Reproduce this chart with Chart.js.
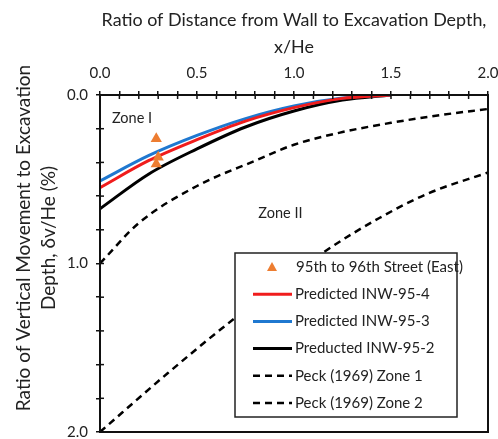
<!DOCTYPE html>
<html>
<head>
<meta charset="utf-8">
<script src="https://cdn.jsdelivr.net/npm/chart.js@4.4.0/dist/chart.umd.min.js"></script>
<style>
  html, body { margin: 0; padding: 0; background: #fff; }
</style>
</head>
<body>
<canvas id="chart" width="498" height="439"></canvas>
<script>
// x/He positions and settlement ratios (dv/He, %) for each curve
const predX = [0, 0.25, 0.5, 0.75, 1.0, 1.25, 1.5];
const inw954 = [0.55, 0.39, 0.265, 0.155, 0.075, 0.02, 0];
const inw953 = [0.51, 0.36, 0.24, 0.14, 0.065, 0.018, 0];
const inw952 = [0.675, 0.47, 0.32, 0.19, 0.095, 0.03, 0];

const peck1X = [0, 0.2, 0.5, 0.8, 1.0, 1.25, 1.5, 1.75, 2.0];
const peck1Y = [1.0, 0.76, 0.54, 0.39, 0.295, 0.22, 0.165, 0.12, 0.083];
const peck2X = [0, 0.35, 0.7, 1.17, 1.44, 1.69, 2.0];
const peck2Y = [2.0, 1.65, 1.32, 0.92, 0.73, 0.585, 0.46];

const obsX = [0.29, 0.30, 0.29];
const obsY = [0.26, 0.37, 0.41];

const zoneLabels = [
  { text: 'Zone I', x: 0.165, y: 0.14 },
  { text: 'Zone II', x: 0.93, y: 0.70 }
];
const yTitle = ['Ratio of Vertical Movement to Excavation', 'Depth, \u03b4v/He (%)'];

const FONT = 'Lato, "Open Sans", sans-serif';
const INK = '#222';

const pts = (xs, ys) => xs.map((x, i) => ({ x, y: ys[i] }));
const isMajor = (v, every) => Math.abs(v / every - Math.round(v / every)) < 1e-6;

function curve(label, xs, ys, color, dash) {
  return {
    label, data: pts(xs, ys), borderColor: color, backgroundColor: color,
    borderWidth: dash ? 2.5 : 3, borderDash: dash || [],
    pointRadius: 0, cubicInterpolationMode: 'monotone', fill: false
  };
}

// frame, crossing tick marks, y title, zone text and the boxed legend
const decor = {
  id: 'decor',
  afterDraw(chart) {
    const { ctx, chartArea: ca, scales } = chart;
    ctx.save();
    ctx.strokeStyle = '#111';
    ctx.lineWidth = 2;
    ctx.strokeRect(ca.left, ca.top, ca.right - ca.left, ca.bottom - ca.top);

    ctx.lineWidth = 1.5;
    scales.x.ticks.forEach(t => {
      const px = scales.x.getPixelForValue(t.value);
      ctx.beginPath(); ctx.moveTo(px, ca.top); ctx.lineTo(px, ca.top + 4); ctx.stroke();
    });
    scales.y.ticks.forEach(t => {
      const py = scales.y.getPixelForValue(t.value);
      ctx.beginPath(); ctx.moveTo(ca.left, py); ctx.lineTo(ca.left + 4, py); ctx.stroke();
    });

    ctx.fillStyle = INK;
    ctx.textAlign = 'center';
    ctx.textBaseline = 'middle';

    // two-line rotated title, sitting a little above the axis middle
    ctx.save();
    ctx.translate(0, 238);
    ctx.rotate(-Math.PI / 2);
    ctx.font = '19px ' + FONT;
    ctx.fillText(yTitle[0], 0, 24);
    ctx.fillText(yTitle[1], 0, 49);
    ctx.restore();

    ctx.font = '14.5px ' + FONT;
    zoneLabels.forEach(z => {
      ctx.fillText(z.text, scales.x.getPixelForValue(z.x), scales.y.getPixelForValue(z.y));
    });

    // legend box
    const bx = ca.left + 135, by = ca.top + 158, bw = 222, bh = 164;
    ctx.fillStyle = '#fff';
    ctx.fillRect(bx, by, bw, bh);
    ctx.strokeStyle = '#222';
    ctx.lineWidth = 1.5;
    ctx.strokeRect(bx, by, bw, bh);
    ctx.textAlign = 'left';
    ctx.font = '15px ' + FONT;
    chart.data.datasets.forEach((ds, i) => {
      const cy = by + 14 + i * 27.2;
      const x0 = bx + 18, x1 = bx + 57;
      if (ds.showLine === false) {
        ctx.fillStyle = ds.backgroundColor;
        ctx.beginPath();
        ctx.moveTo(bx + 37, cy - 5); ctx.lineTo(bx + 42, cy + 4); ctx.lineTo(bx + 32, cy + 4);
        ctx.closePath(); ctx.fill();
        ctx.fillStyle = INK;
        ctx.fillText(ds.label, bx + 61, cy);
      } else {
        ctx.strokeStyle = ds.borderColor;
        ctx.lineWidth = ds.borderWidth;
        ctx.setLineDash(ds.borderDash);
        ctx.beginPath(); ctx.moveTo(x0, cy); ctx.lineTo(x1, cy); ctx.stroke();
        ctx.setLineDash([]);
        ctx.fillStyle = INK;
        ctx.fillText(ds.label, x1 + 3, cy);
      }
    });
    ctx.restore();
  }
};

new Chart(document.getElementById('chart'), {
  type: 'line',
  data: {
    datasets: [
      {
        label: '95th to 96th Street (East)', data: pts(obsX, obsY), showLine: false,
        pointStyle: 'triangle', pointRadius: 6.5, backgroundColor: '#ed7d31', borderColor: '#ed7d31', borderWidth: 0
      },
      curve('Predicted INW-95-4', predX, inw954, '#f01c1c'),
      curve('Predicted INW-95-3', predX, inw953, '#1f78d0'),
      curve('Preducted INW-95-2', predX, inw952, '#000'),
      curve('Peck (1969) Zone 1', peck1X, peck1Y, '#000', [7, 5]),
      curve('Peck (1969) Zone 2', peck2X, peck2Y, '#000', [7, 5])
    ]
  },
  options: {
    responsive: false,
    devicePixelRatio: 1,
    animation: false,
    layout: { padding: { left: 0, top: 0, right: 10, bottom: 7 } },
    plugins: { legend: { display: false }, tooltip: { enabled: false } },
    scales: {
      x: {
        type: 'linear', position: 'top', min: 0, max: 2,
        afterFit: s => { s.height = 95; s.paddingLeft = 0; s.paddingRight = 0; },
        ticks: {
          stepSize: 0.1, autoSkip: false, maxRotation: 0, padding: 9,
          color: INK, font: { family: FONT, size: 15 },
          callback: v => isMajor(v, 0.5) ? v.toFixed(1) : ''
        },
        grid: { drawOnChartArea: false, color: '#111', lineWidth: 1.5, tickLength: 4 },
        border: { color: '#111', width: 2 },
        title: {
          display: true, text: ['Ratio of Distance from Wall to Excavation Depth,', 'x/He'],
          color: INK, font: { family: FONT, size: 17.9, lineHeight: 1.5 }, padding: { top: 7, bottom: 0 }
        }
      },
      y: {
        type: 'linear', reverse: true, min: 0, max: 2,
        afterFit: s => { s.width = 100; s.paddingTop = 0; s.paddingBottom = 0; },
        ticks: {
          stepSize: 0.2, autoSkip: false, padding: 8,
          color: INK, font: { family: FONT, size: 15 },
          callback: v => isMajor(v, 1) ? v.toFixed(1) : ''
        },
        grid: { drawOnChartArea: false, color: '#111', lineWidth: 1.5, tickLength: 4 },
        border: { color: '#111', width: 2 },
        title: { display: false }
      }
    }
  },
  plugins: [decor]
});
</script>
</body>
</html>
